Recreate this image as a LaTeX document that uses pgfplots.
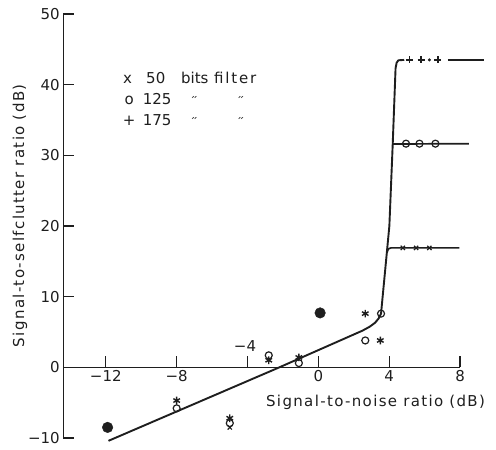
\documentclass[border=0pt]{standalone}
\usepackage{fontspec}
\setmainfont{DejaVu Sans}
\newfontfamily\lsfont[LetterSpace=9]{DejaVu Sans}
\newfontfamily\wfont[LetterSpace=12]{DejaVu Sans}
\usepackage{pgfplots}
\pgfplotsset{compat=1.18}
\definecolor{ink}{RGB}{30,30,30}
\begin{document}
\begin{tikzpicture}
\begin{axis}[
  scale only axis, width=396.7pt, height=424pt,
  xmin=-14.4, xmax=8, ymin=-10, ymax=50,
  axis x line=middle, axis y line=left,
  axis line style={-, line width=1.5pt, ink},
  xtick={-12,-8,-4,0,4,8}, xticklabels={−12,−8,,0,4,8},
  ytick={-10,0,10,20,30,40,50}, yticklabels={−10,0,10,20,30,40,50},
  tick align=inside,
  major tick length=11pt,
  minor tick num=0,
  tick style={line width=1.3pt, ink},
  ticklabel style={font=\fontsize{15}{18}\selectfont, text=ink},
  /pgf/number format/assume math mode=true,
  xlabel={Signal-to-noise ratio (dB)},
  ylabel={Signal-to-selfclutter ratio (dB)},
  label style={font=\lsfont\fontsize{15}{18}\selectfont, text=ink},
  xlabel style={at={(rel axis cs:0.787,0.0849)}, anchor=center},
  ylabel style={at={(rel axis cs:-0.109,0.524)}, anchor=center},
  clip=false,
]
% main curve
\addplot[line width=1.9pt, ink, line join=round] coordinates {
(-11.85,-10.4) (-2.2,0) (2.5,5.2) (2.9,5.75) (3.2,6.3) (3.4,6.9) (3.54,7.6)
(4.01,20) (4.2,31.6) (4.36,42.3) (4.42,43.1) (4.52,43.45) (4.85,43.5)};
% 50 bits branch
\addplot[line width=1.7pt, ink, line join=round] coordinates {
(3.87,16.2) (3.95,16.75) (4.1,16.9) (7.97,16.9)};
% 125 branch
\addplot[line width=1.7pt, ink] coordinates {(4.18,31.6) (8.5,31.65)};
% 175 tail
\addplot[line width=1.7pt, ink] coordinates {(7.31,43.5) (9.38,43.5)};
% markers
\addplot[only marks, mark=x, mark size=3pt, line width=1.2pt, ink] coordinates {
(4.77,16.9) (5.52,16.9) (6.27,16.9) (-5.0,-8.5)};
\addplot[only marks, mark=o, mark size=3.5pt, line width=1.2pt, ink, fill=white] coordinates {
(4.95,31.65) (5.71,31.65) (6.61,31.65) (3.54,7.6) (-8,-5.8) (-5.0,-7.9) (-2.8,1.7) (-1.1,0.6) (2.65,3.8)};
\addplot[only marks, mark=+, mark size=3.5pt, line width=1.3pt, ink] coordinates {
(5.14,43.5) (5.80,43.5) (6.75,43.5)};
\addplot[only marks, mark=*, mark size=1.3pt, ink] coordinates {(6.27,43.5)};
\addplot[only marks, mark=asterisk, mark size=3.8pt, line width=1.4pt, ink] coordinates {
(-8,-4.7) (-5.0,-7.2) (-2.8,1.0) (-1.1,1.4) (2.65,7.6) (3.5,3.8)};
\addplot[only marks, mark=*, mark size=5.3pt, ink] coordinates {(-11.9,-8.5) (0.1,7.7)};
% -4 label above axis
\node[font=\fontsize{15}{18}\selectfont, text=ink] at (axis cs:-4.14,2.97) {−4};
% legend text
\begin{scope}[every node/.style={font=\fontsize{15}{18}\selectfont, text=ink, inner sep=0pt}]
\node[anchor=mid] at (axis cs:-10.77,40.6) {x};
\node[anchor=mid west] at (axis cs:-9.73,40.6) {50};
\node[anchor=mid west] at (axis cs:-7.76,40.6) {bits};
\node[anchor=mid west] at (axis cs:-5.89,40.6) {\wfont filter};
\node[anchor=mid] at (axis cs:-10.68,37.6) {o};
\node[anchor=mid west] at (axis cs:-9.92,37.6) {125};
\node[anchor=mid] at (axis cs:-7.0,37.9) {\fontsize{11}{12}\selectfont ״};
\node[anchor=mid] at (axis cs:-4.37,37.9) {\fontsize{11}{12}\selectfont ״};
\node[anchor=mid] at (axis cs:-10.68,34.6) {+};
\node[anchor=mid west] at (axis cs:-9.92,34.6) {175};
\node[anchor=mid] at (axis cs:-7.0,34.9) {\fontsize{11}{12}\selectfont ״};
\node[anchor=mid] at (axis cs:-4.37,34.9) {\fontsize{11}{12}\selectfont ״};
\end{scope}
\coordinate (bbA) at (rel axis cs:-0.1596,-0.0283);
\coordinate (bbB) at (rel axis cs:1.0907,1.033);
\end{axis}
\pgfresetboundingbox
\path (bbA) rectangle (bbB);
\end{tikzpicture}
\end{document}
